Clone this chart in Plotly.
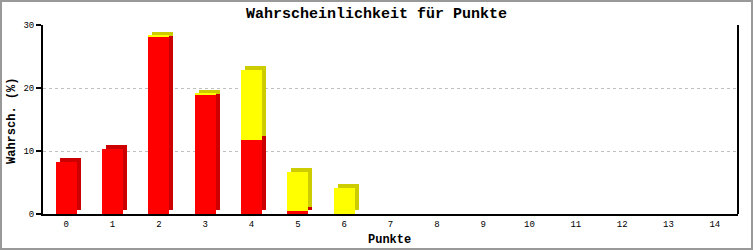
import plotly.graph_objects as go

categories = list(range(15))
red_values = [8.25, 10.35, 28.2, 19.0, 11.75, 0.5, 0, 0, 0, 0, 0, 0, 0, 0, 0]
yellow_values = [0, 0, 0.12, 0.1, 11.1, 6.2, 4.2, 0, 0, 0, 0, 0, 0, 0, 0]
tick_labels = [str(c) for c in categories]
y_ticks = [0, 10, 20, 30]

W, H = 753, 250
ML, MR, MT, MB = 43, 15, 25, 36
PW, PH = W - ML - MR, H - MT - MB

bar_w = 0.455
dx = 4 / (PW / 15)          # depth in x units (4 px)
dy = 3.6 / (PH / 30)        # depth in y units

RED, RED_D = "#FF0000", "#CC0000"
YEL, YEL_D = "#FFFF00", "#CCCC00"

# side/top faces of each segment (shifted copies drawn behind the front faces)
red_side_base = [dy if r > 0 else 0 for r in red_values]
yel_side_base = [r + min(y, dy) for r, y in zip(red_values, yellow_values)]
yel_side_h = [(y + dy - min(y, dy)) if y > 0 else 0 for y in yellow_values]

fig = go.Figure()
fig.add_trace(go.Bar(x=categories, y=red_values, base=red_side_base, width=bar_w,
                     offset=-bar_w / 2 + dx, marker=dict(color=RED_D, line=dict(width=0)),
                     hoverinfo="skip", showlegend=False))
fig.add_trace(go.Bar(x=categories, y=yel_side_h, base=yel_side_base, width=bar_w,
                     offset=-bar_w / 2 + dx, marker=dict(color=YEL_D, line=dict(width=0)),
                     hoverinfo="skip", showlegend=False))
# front faces
fig.add_trace(go.Bar(x=categories, y=red_values, base=[0] * 15, width=bar_w,
                     offset=-bar_w / 2, marker=dict(color=RED, line=dict(width=0)),
                     showlegend=False))
fig.add_trace(go.Bar(x=categories, y=yellow_values, base=red_values, width=bar_w,
                     offset=-bar_w / 2, marker=dict(color=YEL, line=dict(width=0)),
                     showlegend=False))

mono = "Liberation Mono, DejaVu Sans Mono, monospace"

fig.update_layout(
    width=W, height=H,
    margin=dict(l=ML, r=MR, t=MT, b=MB, pad=0),
    paper_bgcolor="white", plot_bgcolor="white",
    barmode="overlay", bargap=0,
    title=dict(text="<b>Wahrscheinlichkeit für Punkte</b>", x=0.5, xanchor="center",
               y=1 - 13 / H, yref="container", yanchor="middle",
               font=dict(family=mono, size=15, color="black")),
    xaxis=dict(range=[-0.5, 14.5], tickvals=categories, ticktext=tick_labels,
               showgrid=False, zeroline=False, showline=True, linecolor="black", linewidth=2,
               ticks="", ticklen=0, tickfont=dict(family=mono, size=9, color="black"),
               fixedrange=True),
    yaxis=dict(range=[0, 30], tickvals=y_ticks, showgrid=True, gridcolor="#c0c0c0",
               griddash="3px,3px", gridwidth=1, zeroline=False, showline=True, linecolor="black",
               linewidth=2, ticks="outside", ticklen=5, tickwidth=2, tickcolor="black",
               tickfont=dict(family=mono, size=9, color="black"), fixedrange=True),
    annotations=[
        dict(text="<b>Punkte</b>", xref="paper", yref="paper", x=(389 - ML) / PW,
             y=-(240 - (MT + PH)) / PH, xanchor="center", yanchor="middle", showarrow=False,
             font=dict(family=mono, size=12, color="black")),
        dict(text="<b>Wahrsch. (%)</b>", xref="paper", yref="paper", x=(12 - ML) / PW,
             y=1 - (121 - MT) / PH, xanchor="center", yanchor="middle", textangle=-90,
             showarrow=False, font=dict(family=mono, size=12, color="black")),
    ],
    shapes=[
        dict(type="line", xref="paper", yref="paper", x0=1, x1=1, y0=0, y1=1,
             line=dict(color="black", width=2)),
        dict(type="rect", xref="paper", yref="paper",
             x0=-(ML - 1) / PW, x1=1 + (MR - 1) / PW,
             y0=-(MB - 1) / PH, y1=1 + (MT - 1) / PH,
             line=dict(color="#999999", width=2)),
    ],
)

fig.write_html("out.html")
